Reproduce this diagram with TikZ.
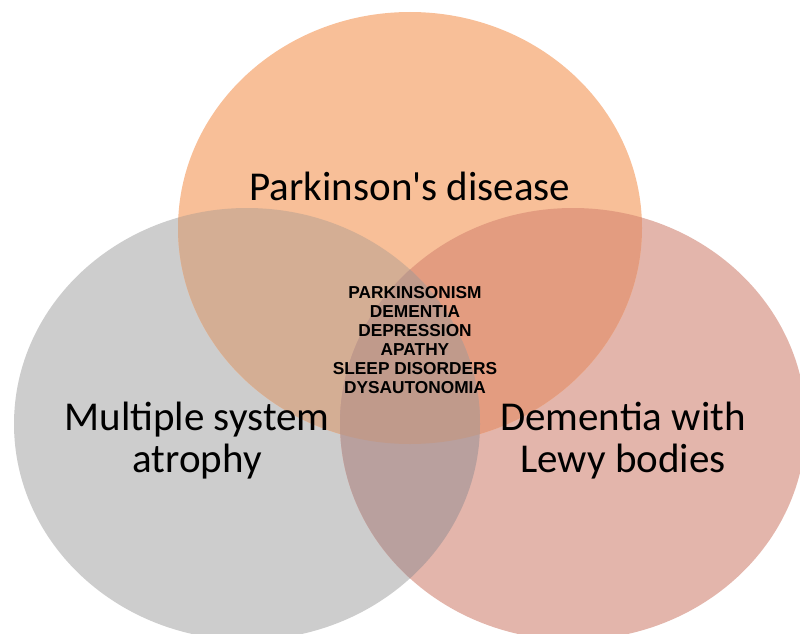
\documentclass[tikz,border=0pt]{standalone}
\usepackage{fontspec}
\setmainfont{Carlito}
\newfontfamily\symptomfont{Liberation Sans}
\begin{document}
\begin{tikzpicture}[x=1pt,y=-1pt,
  label/.style={font=\fontsize{41}{42}\selectfont, align=center, text=black, inner sep=0pt},
  symptoms/.style={font=\symptomfont\bfseries\fontsize{17.3}{19}\selectfont, align=center, text=black, inner sep=0pt}]
\definecolor{pdc}{HTML}{F8BF98}
\definecolor{msac}{HTML}{CDCDCD}
\definecolor{dlbc}{HTML}{E3B5AB}
\definecolor{pdmsa}{HTML}{D4AE94}
\definecolor{pddlb}{HTML}{E39C80}
\definecolor{msadlb}{HTML}{B9A09E}
\definecolor{allthree}{HTML}{C09A8B}
\useasboundingbox (0,0) rectangle (800,634);
\def\pdset{(410,228) ellipse [x radius=232, y radius=216]}
\def\msaset{(247,424) ellipse [x radius=233, y radius=216]}
\def\dlbset{(573,424) ellipse [x radius=233, y radius=216]}
% single sets
\fill[msac] \msaset;
\fill[dlbc] \dlbset;
\fill[pdc] \pdset;
% pairwise overlaps
\begin{scope}
  \clip \pdset;
  \fill[pdmsa] \msaset;
  \fill[pddlb] \dlbset;
\end{scope}
\begin{scope}
  \clip \msaset;
  \fill[msadlb] \dlbset;
\end{scope}
% common core
\begin{scope}
  \clip \pdset;
  \clip \msaset;
  \fill[allthree] \dlbset;
\end{scope}
\node[label] (pd) at (410,186) {Parkinson\textquotesingle s disease};
\node[label] (msa) at (197,441) {Multiple system\\atrophy};
\node[label] (dlb) at (623,441) {Dementia with\\Lewy bodies};
\node[symptoms] (core) at (415,340) {PARKINSONISM\\DEMENTIA\\DEPRESSION\\APATHY\\SLEEP DISORDERS\\DYSAUTONOMIA};
\end{tikzpicture}
\end{document}
